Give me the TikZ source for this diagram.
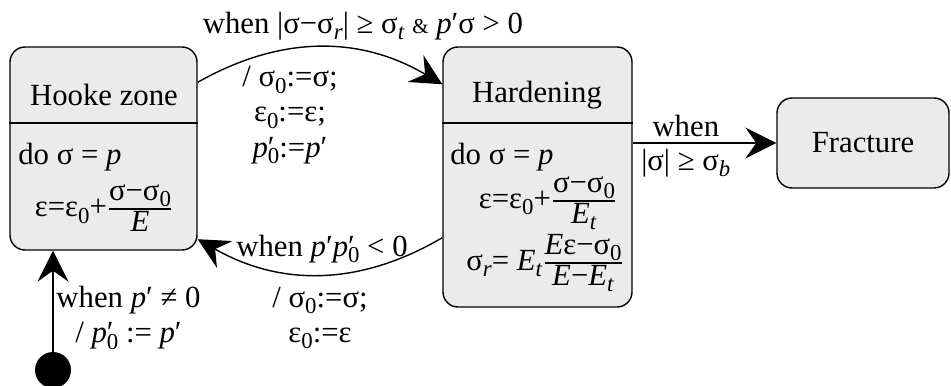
\documentclass[tikz,border=0pt]{standalone}
\usepackage{fontspec}
\usepackage{amsmath}
\setmainfont{Liberation Serif}
\usetikzlibrary{arrows.meta,positioning,calc}
\definecolor{statefill}{RGB}{235,235,235}
\newcommand{\lo}[1]{\raisebox{-0.45ex}{\fontsize{13}{13}\selectfont #1}}
\newcommand{\fracbox}[2]{$\genfrac{}{}{0.8pt}{1}{\mbox{#1}}{\mbox{#2}}$}
\newcommand{\pp}{\textit{p}′}
\newcommand{\ppz}{\textit{p}\rlap{′}\lo{0}}

\begin{document}
\begin{tikzpicture}[
    every node/.style={font=\fontsize{17.5}{20}\selectfont, inner sep=0pt},
    state/.style={draw, line width=0.8pt, fill=statefill, rounded corners=0.3cm},
    trans/.style={line width=0.8pt, -{Stealth[length=0.62cm,width=0.62cm,inset=0.22cm]}}
  ]
    \useasboundingbox (0,0) rectangle (19.02,-7.7);

    % states
    \node[state, minimum width=3.74cm, minimum height=4.06cm] (hooke) at (2.07,-2.97) {};
    \draw[line width=0.8pt] (hooke.west |- 0,-2.46) -- (hooke.east |- 0,-2.46);
    \node (hookeT) at (2.08,-1.9) {Hooke zone};
    \node[anchor=west] (hookeD) at (0.36,-3.14) {do σ = \textit{p}};
    \node (hookeF) at (2.08,-4.16) {ε=ε\lo{0}+\fracbox{σ−σ\lo{0}}{\textit{E}}};

    \node[state, minimum width=3.78cm, minimum height=5.2cm] (hard) at (10.75,-3.54) {};
    \draw[line width=0.8pt] (hard.west |- 0,-2.46) -- (hard.east |- 0,-2.46);
    \node (hardT) at (10.74,-1.9) {Hardening};
    \node[anchor=west] (hardD) at (9.0,-3.14) {do σ = \textit{p}};
    \node (hardF) at (10.96,-4.06) {ε=ε\lo{0}+\fracbox{σ−σ\lo{0}}{\textit{E}\lo{\textit{t}}}};
    \node (hardR) at (10.9,-5.26) {σ\lo{\textit{r}}= \textit{E}\lo{\textit{t}}\fracbox{\textit{E}ε−σ\lo{0}}{\textit{E}−\textit{E}\lo{\textit{t}}}};

    \node[state, minimum width=3.44cm, minimum height=1.8cm] (fract) at (17.26,-2.86) {};
    \node (fractT) at (17.26,-2.86) {Fracture};

    \node[circle, fill=black, minimum size=0.72cm] (init) at (1.06,-7.4) {};

    % transitions
    \draw[trans] (init) -- (init |- hooke.south);
    \node[align=center] (initL) at (2.57,-6.36) {when \pp{} ≠ 0\\ / \ppz{} := \pp};

    \draw[trans] ($(hooke.north east)+(0,-0.72)$) to[bend left=30] ($(hard.north west)+(0,-0.76)$);
    \node (topL) at (7.26,-0.52) {when |σ−σ\lo{\textit{r}}| ≥ σ\lo{\textit{t}} {\fontsize{12}{12}\selectfont\&} \pp σ > 0};
    \node[align=center] (topA) at (5.8,-2.3) {/ σ\lo{0}:=σ;\\ ε\lo{0}:=ε;\\ \ppz:=\pp};

    \draw[trans] ($(hard.south west)+(0,1.4)$) to[bend left=30] ($(hooke.south east)+(0,0.23)$);
    \node (botL) at (6.44,-4.98) {when \pp\ppz{} < 0};
    \node[align=center] (botA) at (6.4,-6.36) {/ σ\lo{0}:=σ;\\ ε\lo{0}:=ε};

    \draw[trans] (hard.east |- fract.west) -- (fract.west)
        node[pos=.37, above=3pt] (fractW) {when}
        node[pos=.37, below=3pt] (fractC) {|σ| ≥ σ\lo{\textit{b}}};
\end{tikzpicture}
\end{document}
